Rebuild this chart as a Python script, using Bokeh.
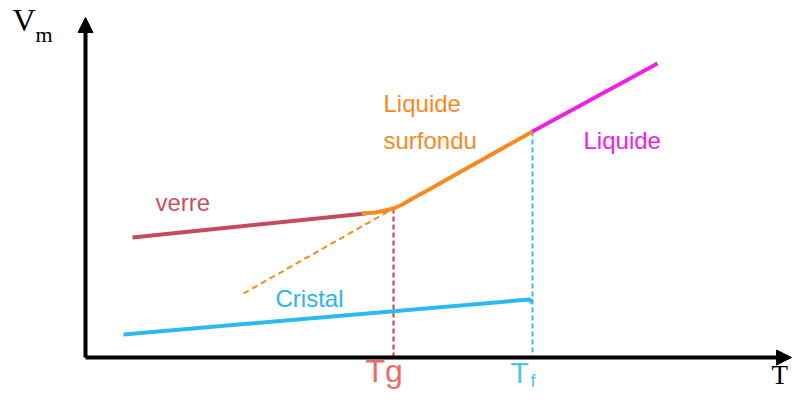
from bokeh.plotting import figure
from bokeh.models import Range1d, Arrow, NormalHead
from bokeh.core.properties import value
from bokeh.embed import file_html
from bokeh.resources import INLINE

# ---- data (arbitrary units: T horizontal, Vm vertical) ----
Tg = 30.8
Tf = 44.7
V_Tg = 14.9
V_Tf = 22.6

verre_T = [4.7, 28.0]
verre_V = [12.0, 14.4]

trans_T = [27.6, 29.0, 30.0, 30.8, 31.7, 32.7, 34.0]
trans_V = [14.4, 14.5, 14.7, 14.9, 15.3, 15.9, 16.6]

surf_T = [34.0, Tf]
surf_V = [16.6, V_Tf]

liq_T = [Tf, 57.2]
liq_V = [V_Tf, 29.4]

extrap_T = [15.8, Tg]
extrap_V = [6.4, V_Tg]

crist_T = [3.8, 44.4, 44.7]
crist_V = [2.3, 5.8, 5.5]

x_axis_end = 70.6
y_axis_end = 34.0

SANS = value("Liberation Sans")
SERIF = value("Liberation Serif")

p = figure(width=793, height=393, output_backend="svg", toolbar_location=None,
           x_range=Range1d(-8.5, 70.8), y_range=Range1d(-3.6, 35.7),
           min_border=0, outline_line_color=None)
p.axis.visible = False
p.grid.visible = False
p.background_fill_color = "white"

# dashed guides
p.line(extrap_T, extrap_V, line_color="#f7891f", line_width=2, line_dash="6 4")
p.line([Tg, Tg], [V_Tg, 0], line_color="#c63c52", line_width=2, line_dash="5 3")
p.line([Tf, Tf], [V_Tf, 0], line_color="#3bbbe8", line_width=2, line_dash="5 3")

# curves
p.line(verre_T, verre_V, line_color="#c44a5e", line_width=4)
p.line(crist_T, crist_V, line_color="#2bbaf0", line_width=4)
p.line(trans_T, trans_V, line_color="#f7891f", line_width=4, line_join="round")
p.line(surf_T, surf_V, line_color="#f7891f", line_width=4)
p.line(liq_T, liq_V, line_color="#f01fe6", line_width=4)

# axes
p.segment(x0=[0, 0], y0=[0, 0], x1=[x_axis_end - 1.2, 0], y1=[0, y_axis_end - 1.2],
          line_color="black", line_width=4)
p.add_layout(Arrow(end=NormalHead(size=15, fill_color="black", line_color="black"),
                   x_start=0, y_start=0, x_end=x_axis_end, y_end=0, line_alpha=0))
p.add_layout(Arrow(end=NormalHead(size=15, fill_color="black", line_color="black"),
                   x_start=0, y_start=0, x_end=0, y_end=y_axis_end, line_alpha=0))

# labels
def label(x, y, t, color, size, font=SANS):
    p.text(x=[x], y=[y], text=[t], text_color=color, text_font=font,
           text_font_size=size, text_baseline="alphabetic", text_align="left")

label(7.0, 15.5, "verre", "#c9515c", "24px")
label(19.0, 5.9, "Cristal", "#2bb5ea", "24px")
label(29.8, 25.4, "Liquide", "#f7891f", "24px")
label(29.8, 21.7, "surfondu", "#f7891f", "24px")
label(49.8, 21.7, "Liquide", "#f020e8", "24px")
label(28.0, -1.35, "Tg", "#ee6a6a", "32px")
label(42.5, -1.45, "T", "#4cc4f0", "30px")
label(44.5, -2.35, "f", "#4cc4f0", "18px")
label(-7.3, 33.75, "V", "black", "32px", SERIF)
label(-5.0, 32.3, "m", "black", "22px", SERIF)
label(68.6, -1.7, "T", "black", "27px", SERIF)

open("out.html", "w").write(file_html(p, INLINE))
